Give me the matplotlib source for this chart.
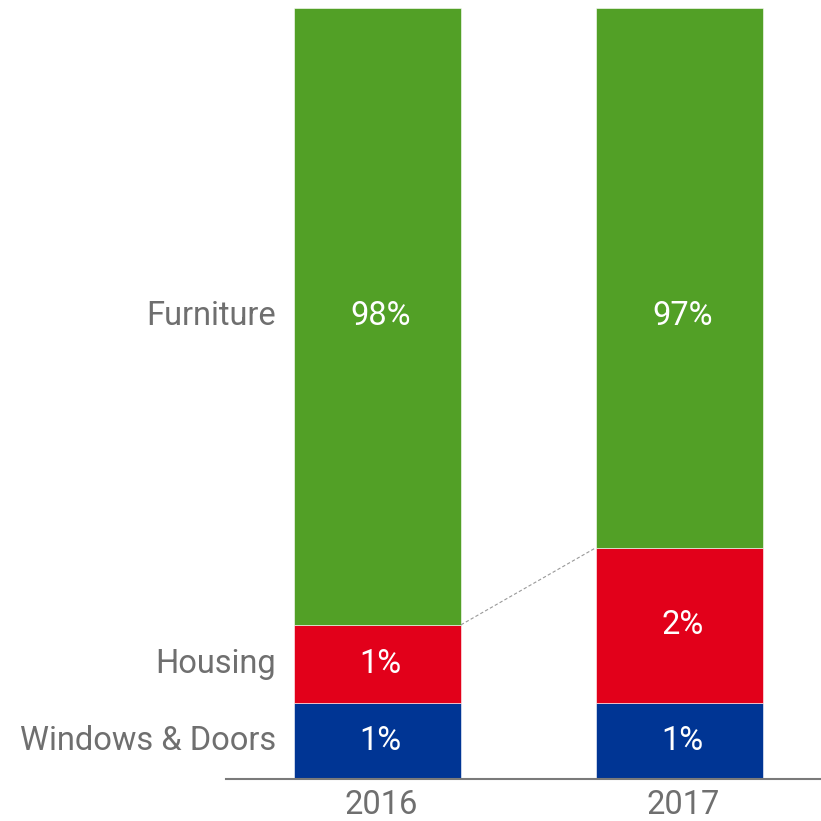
import matplotlib.pyplot as plt
import numpy as np

plt.rcParams["font.family"] = ["Roboto", "DejaVu Sans"]

# categories and segments (bottom to top)
years = ["2016", "2017"]
segments = ["Windows & Doors", "Housing", "Furniture"]
# shown share labels
share_labels = {
    "Windows & Doors": ["1%", "1%"],
    "Housing": ["1%", "2%"],
    "Furniture": ["98%", "97%"],
}
# drawn height of each segment (chart uses a floor for small slices)
seg_heights = {
    "Windows & Doors": [9.9, 9.9],
    "Housing": [10.1, 20.1],
    "Furniture": [80.0, 70.0],
}
colors = {
    "Windows & Doors": "#003594",
    "Housing": "#e2001a",
    "Furniture": "#52a026",
}

fig = plt.figure(figsize=(8.21, 8.21), dpi=100)
ax = fig.add_axes([226 / 821, 1 - 779 / 821, (821 - 226) / 821, (779 - 8) / 821])

fs = 23.5
x = np.arange(len(years))
width = 0.553
bottom = np.zeros(len(years))
for seg in segments:
    h = np.array(seg_heights[seg])
    ax.bar(x, h, width, bottom=bottom, color=colors[seg], edgecolor="white",
           linewidth=0.4)
    mids = bottom + h / 2
    if seg == "Furniture":
        # top row labels sit on one line
        mids = np.full(len(years), mids[0])
    for i in range(len(years)):
        ax.text(x[i] + 0.01, mids[i], share_labels[seg][i], ha="center",
                va="center", color="white", fontsize=fs)
    # category label next to first bar
    ax.text(x[0] - width / 2 - 0.06, mids[0], seg, ha="right",
            va="center", color="#6f6f6f", fontsize=fs)
    bottom = bottom + h

# dashed connector between the tops of the Housing slices
housing_top = np.array(seg_heights["Windows & Doors"]) + np.array(seg_heights["Housing"])
ax.plot([x[0] + width / 2, x[1] - width / 2], housing_top, ls=(0, (3, 2)),
        color="#999999", lw=0.8)

ax.set_xlim(-0.502, 1.469)
ax.set_ylim(0, 100)
ax.set_xticks(x + 0.013)
ax.set_xticklabels(years, fontsize=fs, color="#6f6f6f")
ax.tick_params(axis="x", length=0, pad=7)
ax.set_yticks([])
for s in ["top", "right", "left"]:
    ax.spines[s].set_visible(False)
ax.spines["bottom"].set_color("#7a7a7a")
ax.spines["bottom"].set_linewidth(1.5)

fig.savefig("out.png", dpi=100)
